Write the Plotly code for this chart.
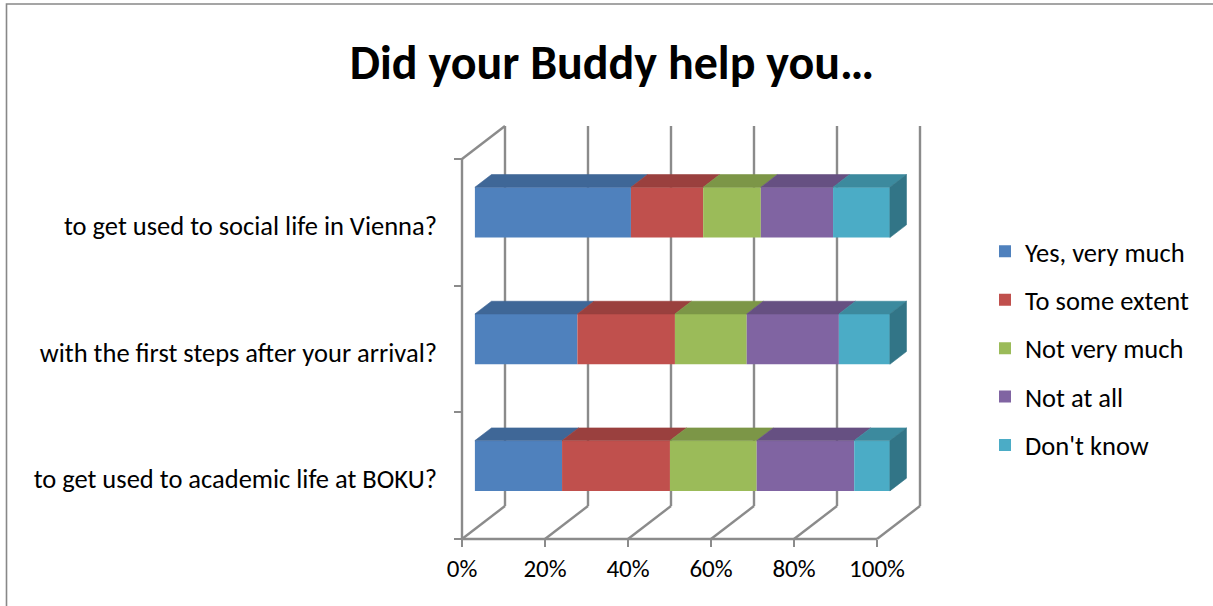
import plotly.graph_objects as go

# ---- data -------------------------------------------------------------
categories = [
    "to get used to academic life at BOKU?",
    "with the first steps after your arrival?",
    "to get used to social life in Vienna?",
]
series_names = ["Yes, very much", "To some extent", "Not very much", "Not at all", "Don't know"]
yes_very_much = [21.0, 24.7, 37.6]
to_some_extent = [26.0, 23.5, 17.4]
not_very_much = [20.9, 17.3, 13.9]
not_at_all = [23.5, 22.2, 17.4]
dont_know = [8.6, 12.3, 13.7]
x_tick_values = [0, 20, 40, 60, 80, 100]
x_tick_labels = ["0%", "20%", "40%", "60%", "80%", "100%"]

series_values = [yes_very_much, to_some_extent, not_very_much, not_at_all, dont_know]

# ---- styling ----------------------------------------------------------
front_colors = ["#4F81BD", "#C0504D", "#9BBB59", "#8064A2", "#4BACC6"]
top_colors = ["#3F6797", "#9A403E", "#7C9647", "#665082", "#3C8A9E"]
side_color = "#327587"
wall_color = "#8B8B8B"
FONT = "Calibri, Carlito, Lato, sans-serif"

W, H = 1213, 606
# plot-area box in pixels and the pixel scale of the front plane
PL, PR, PT, PB = 452, 935, 115, 549
AX_X0, AX_Y0 = 462, 539          # where 0% / lowest category boundary sit
PX_PER_PCT = 4.15
PX_PER_CAT = 126.67
# 3-D depth of the chart box, in data units
DEPTH_X = 43 / PX_PER_PCT
DEPTH_Y = 33 / PX_PER_CAT
BAR_FRONT = 0.30                 # depth of the bar's front face (fraction)
BAR_DEPTH = 0.385                # bar thickness (fraction of box depth)
BAR_WIDTH = 0.397

x_range = [(PL - AX_X0) / PX_PER_PCT, (PR - AX_X0) / PX_PER_PCT]
y_range = [-0.5 - (PB - AX_Y0) / PX_PER_CAT, -0.5 + (AX_Y0 - PT) / PX_PER_CAT]

n_cat = len(categories)
y_lo, y_hi = -0.5, n_cat - 0.5

fig = go.Figure()

# front faces (stacked horizontal bars)
cum = [0.0] * n_cat
bases = []
for name, vals, col in zip(series_names, series_values, front_colors):
    bases.append(list(cum))
    fig.add_trace(go.Bar(
        name=name, legendgroup=name, orientation="h",
        y=[i + BAR_FRONT * DEPTH_Y for i in range(n_cat)],
        x=vals,
        base=[c + BAR_FRONT * DEPTH_X for c in cum],
        width=BAR_WIDTH,
        marker=dict(color=col, line=dict(width=0)),
        hoverinfo="x+name",
    ))
    cum = [c + v for c, v in zip(cum, vals)]

# top faces of every segment
dxf, dyf = BAR_FRONT * DEPTH_X, BAR_FRONT * DEPTH_Y
dxb, dyb = BAR_DEPTH * DEPTH_X, BAR_DEPTH * DEPTH_Y
for name, vals, base, col in zip(series_names, series_values, bases, top_colors):
    xs, ys = [], []
    for i in range(n_cat):
        x0 = base[i] + dxf
        x1 = base[i] + vals[i] + dxf
        yt = i + dyf + BAR_WIDTH / 2
        xs += [x0, x1, x1 + dxb, x0 + dxb, x0, None]
        ys += [yt, yt, yt + dyb, yt + dyb, yt, None]
    fig.add_trace(go.Scatter(
        x=xs, y=ys, mode="lines", fill="toself", fillcolor=col,
        line=dict(color=col, width=0.6), legendgroup=name,
        showlegend=False, hoverinfo="skip",
    ))

# right-hand end faces of the stacks
xs, ys = [], []
for i in range(n_cat):
    xe = cum[i] + dxf
    yt = i + dyf + BAR_WIDTH / 2
    yb = i + dyf - BAR_WIDTH / 2
    xs += [xe, xe, xe + dxb, xe + dxb, xe, None]
    ys += [yb, yt, yt + dyb, yb + dyb, yb, None]
fig.add_trace(go.Scatter(
    x=xs, y=ys, mode="lines", fill="toself", fillcolor=side_color,
    line=dict(color=side_color, width=0.6), legendgroup=series_names[-1],
    showlegend=False, hoverinfo="skip",
))

# walls, floor and front axis lines of the 3-D box
line_style = dict(color=wall_color, width=2.4)
shapes = []
for t in x_tick_values:
    shapes.append(dict(type="line", xref="x", yref="y", layer="below",
                       x0=t + DEPTH_X, x1=t + DEPTH_X,
                       y0=y_lo + DEPTH_Y, y1=y_hi + DEPTH_Y, line=line_style))
    shapes.append(dict(type="line", xref="x", yref="y", layer="below",
                       x0=t, x1=t + DEPTH_X, y0=y_lo, y1=y_lo + DEPTH_Y,
                       line=line_style))
shapes.append(dict(type="line", xref="x", yref="y", layer="below",
                   x0=x_tick_values[0], x1=x_tick_values[-1], y0=y_lo, y1=y_lo,
                   line=line_style))
shapes.append(dict(type="line", xref="x", yref="y", layer="below",
                   x0=0, x1=0, y0=y_lo, y1=y_hi, line=line_style))
shapes.append(dict(type="line", xref="x", yref="y", layer="below",
                   x0=0, x1=DEPTH_X, y0=y_hi, y1=y_hi + DEPTH_Y, line=line_style))

# chart-area border (right and bottom edges run past the page)
pw, ph = PR - PL, PB - PT
shapes.append(dict(type="rect", xref="paper", yref="paper", layer="below",
                   x0=(6.5 - PL) / pw, x1=(W + 60 - PL) / pw,
                   y0=(PB - (H + 60)) / ph, y1=(PB - 4) / ph,
                   line=dict(color="#888888", width=1.6)))

fig.update_layout(
    width=W, height=H,
    margin=dict(l=PL, r=W - PR, t=PT, b=H - PB, pad=0),
    paper_bgcolor="white", plot_bgcolor="rgba(0,0,0,0)",
    barmode="overlay",
    shapes=shapes,
    font=dict(family=FONT, size=26, color="black"),
    title=dict(text="<b>Did your Buddy help you…</b>",
               x=612 / W, xref="container", xanchor="center",
               y=1 - 62 / H, yref="container", yanchor="middle",
               font=dict(family=FONT, size=48, color="black")),
    xaxis=dict(range=x_range, showgrid=False, zeroline=False, showline=False,
               tickmode="array", tickvals=x_tick_values, ticktext=x_tick_labels,
               ticks="outside", ticklen=7, tickwidth=2, tickcolor=wall_color,
               tickfont=dict(size=25), anchor="free",
               position=(PB - AX_Y0) / ph, fixedrange=True),
    yaxis=dict(range=y_range, showgrid=False, zeroline=False, showline=False,
               tickmode="array", tickvals=[i - 0.028 for i in range(n_cat)],
               ticktext=categories,
               ticks="", ticklabelstandoff=25,
               minor=dict(tickmode="array", tickvals=[y_lo + k for k in range(n_cat + 1)],
                          ticks="outside", ticklen=8, tickwidth=2, tickcolor=wall_color),
               tickfont=dict(size=26.5), anchor="free",
               position=(AX_X0 - PL) / pw, fixedrange=True),
    legend=dict(x=(985 - PL) / pw, xanchor="left",
                y=(PB - 348.5) / ph, yanchor="middle",
                traceorder="grouped", tracegroupgap=11,
                font=dict(size=26.5), bgcolor="rgba(0,0,0,0)"),
    showlegend=True,
)

fig.write_html("out.html")
